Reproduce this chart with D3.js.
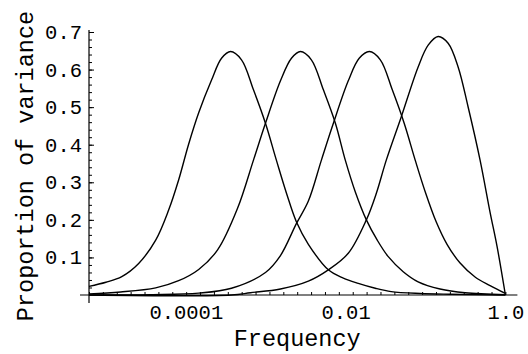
<!DOCTYPE html>
<html>
<head>
<meta charset="utf-8">
<script src="https://cdn.jsdelivr.net/npm/d3@7"></script>
<style>
body { margin: 0; background: #fff; }
text { font-family: "Liberation Mono", "DejaVu Sans Mono", monospace; fill: #000; }
</style>
</head>
<body>
<svg id="chart"></svg>
<script>
// data (frequency, proportion of variance)

var freq1 = [6.14e-6, 1.0e-5, 1.58e-5, 2.57e-5, 4.20e-5, 6.10e-5, 8.13e-5, 1.08e-4, 1.45e-4, 2.10e-4, 2.80e-4, 3.63e-4, 4.98e-4, 7.03e-4, 9.93e-4, 1.36e-3, 1.82e-3, 2.42e-3, 3.42e-3, 6.08e-3, 9.36e-3, 1.44e-2, 2.35e-2, 3.72e-2, 8.57e-2, 0.203, 1.0];
var prop1 = [0.023, 0.034, 0.049, 0.084, 0.146, 0.226, 0.306, 0.400, 0.485, 0.572, 0.630, 0.648, 0.626, 0.546, 0.457, 0.359, 0.271, 0.195, 0.135, 0.067, 0.045, 0.031, 0.018, 0.009, 0.004, 0.002, 0.0];

var freq2 = [6.14e-6, 1.53e-5, 4.20e-5, 8.13e-5, 1.45e-4, 2.50e-4, 4.43e-4, 7.03e-4, 9.93e-4, 1.53e-3, 2.10e-3, 2.72e-3, 3.73e-3, 5.27e-3, 7.45e-3, 9.91e-3, 1.32e-2, 1.82e-2, 2.49e-2, 3.42e-2, 5.26e-2, 8.09e-2, 0.152, 0.313, 1.0];
var prop2 = [0.003, 0.008, 0.019, 0.038, 0.068, 0.120, 0.230, 0.359, 0.457, 0.570, 0.630, 0.648, 0.626, 0.546, 0.457, 0.359, 0.275, 0.200, 0.146, 0.102, 0.062, 0.035, 0.016, 0.006, 0.001];

var freq3 = [6.14e-6, 3.63e-5, 1.45e-4, 3.73e-4, 9.93e-4, 1.53e-3, 2.42e-3, 3.42e-3, 4.98e-3, 7.03e-3, 1.08e-2, 1.48e-2, 1.98e-2, 2.72e-2, 3.84e-2, 5.41e-2, 7.43e-2, 9.91e-2, 0.136, 0.186, 0.271, 0.417, 0.643, 1.0];
var prop3 = [0.0, 0.001, 0.005, 0.018, 0.060, 0.105, 0.190, 0.250, 0.359, 0.457, 0.570, 0.630, 0.648, 0.626, 0.546, 0.457, 0.359, 0.275, 0.195, 0.135, 0.085, 0.048, 0.025, 0.004];

var freq4 = [6.14e-6, 3.73e-4, 6.45e-4, 1.53e-3, 3.42e-3, 6.08e-3, 1.08e-2, 1.82e-2, 2.42e-2, 3.23e-2, 4.97e-2, 8.09e-2, 0.108, 0.144, 0.192, 0.256, 0.341, 0.482, 0.643, 0.785, 1.0];
var prop4 = [0.0, 0.0, 0.006, 0.016, 0.037, 0.067, 0.111, 0.200, 0.270, 0.359, 0.474, 0.607, 0.665, 0.688, 0.670, 0.607, 0.501, 0.359, 0.220, 0.130, 0.0];

var xTickValues = [0.0001, 0.01, 1];
var xTickLabels = ["0.0001", "0.01", "1.0"];
var yTickValues = [0.1, 0.2, 0.3, 0.4, 0.5, 0.6, 0.7];

// - parametrage

var width = 528, height = 354;
var plotLeft = 89, plotRight = 505.4, plotTop = 32, plotBottom = 295;

var x = d3.scaleLog()
	.domain([Math.exp(-12), 1])
	.range([plotLeft, plotRight]);

var y = d3.scaleLinear()
	.domain([0, 0.7])
	.range([plotBottom, plotTop]);

var svg = d3.select("#chart")
	.attr("width", width)
	.attr("height", height);

svg.append("rect")
	.attr("width", width)
	.attr("height", height)
	.attr("fill", "#fff");

// - courbes

var series = [[freq1, prop1], [freq2, prop2], [freq3, prop3], [freq4, prop4]].map(function(s){
	return s[0].map(function(f, i){ return [f, s[1][i]]; });
});

var line = d3.line()
	.x(function(d){ return x(d[0]); })
	.y(function(d){ return y(d[1]); })
	.curve(d3.curveCatmullRom.alpha(0.5));

svg.append("g")
	.selectAll("path")
	.data(series)
	.enter().append("path")
	.attr("d", line)
	.attr("fill", "none")
	.attr("stroke", "#000")
	.attr("stroke-width", 1.4);

// - axes

// petites graduations en x : tous les 0.4 en log naturel
var xMinor = d3.range(0, 31).map(function(k){ return Math.exp(-0.4 * k); });

svg.append("g")
	.attr("transform", "translate(0," + plotBottom + ")")
	.call(d3.axisBottom(x).tickValues(xMinor).tickSize(-3).tickFormat(""))
	.call(function(g){ g.select(".domain").remove(); })
	.selectAll("line").attr("stroke", "#000");

var xAxis = svg.append("g")
	.attr("transform", "translate(0," + plotBottom + ")")
	.call(d3.axisBottom(x).tickValues(xTickValues).tickSize(0).tickPadding(9)
		.tickFormat(function(d, i){ return xTickLabels[i]; }));
xAxis.select(".domain").remove();
xAxis.selectAll("text").attr("font-size", 20.5).attr("font-family", null);

var yMinor = d3.range(1, 36).map(function(k){ return k * 0.02; });

svg.append("g")
	.attr("transform", "translate(" + plotLeft + ",0)")
	.call(d3.axisLeft(y).tickValues(yMinor).tickSize(-3).tickFormat(""))
	.call(function(g){ g.select(".domain").remove(); })
	.selectAll("line").attr("stroke", "#000");

var yAxis = svg.append("g")
	.attr("transform", "translate(" + plotLeft + ",0)")
	.call(d3.axisLeft(y).tickValues(yTickValues).tickSize(-5).tickPadding(7)
		.tickFormat(d3.format(".1f")));
yAxis.select(".domain").remove();
yAxis.selectAll("line").attr("stroke", "#000");
yAxis.selectAll("text").attr("font-size", 20.5).attr("font-family", null);

// lignes des axes
svg.append("line")
	.attr("x1", plotLeft - 9).attr("x2", plotRight + 12)
	.attr("y1", y(0)).attr("y2", y(0))
	.attr("stroke", "#000").attr("stroke-width", 1.2);

svg.append("line")
	.attr("x1", plotLeft).attr("x2", plotLeft)
	.attr("y1", y(0) + 8).attr("y2", y(0.7) - 2)
	.attr("stroke", "#000").attr("stroke-width", 1.2);

// - titres

svg.append("text")
	.attr("x", (plotLeft + plotRight) / 2)
	.attr("y", 346)
	.attr("text-anchor", "middle")
	.attr("font-size", 23.5)
	.text("Frequency");

svg.append("text")
	.attr("transform", "translate(33," + 166 + ") rotate(-90)")
	.attr("text-anchor", "middle")
	.attr("font-size", 23.5)
	.text("Proportion of variance");
</script>
</body>
</html>
